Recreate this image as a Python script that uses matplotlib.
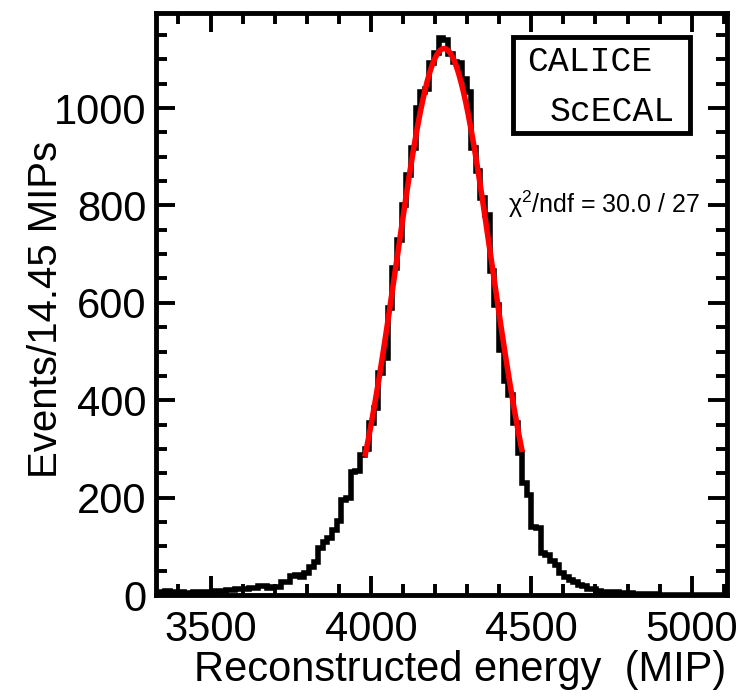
import numpy as np
import matplotlib
matplotlib.use("Agg")
import matplotlib.pyplot as plt
from matplotlib.patches import Rectangle
from matplotlib.ticker import MultipleLocator

# ========================
# 1. Data
# ========================

bin_start = 3330.0
bin_width = 14.45

counts = [
    4, 6, 8, 7, 5, 6, 4, 5, 6, 7,
    6, 7, 8, 8, 9, 10, 11, 12, 12, 13,
    14, 15, 18, 19, 15, 16, 17, 26, 27, 40,
    41, 38, 45, 58, 67, 97, 108, 118, 134, 151,
    196, 200, 253, 255, 288, 300, 354, 385, 456, 487,
    590, 672, 729, 801, 862, 918, 1000, 1033, 1040, 1092,
    1112, 1143, 1140, 1110, 1095, 1092, 1060, 1033, 918, 870,
    815, 780, 665, 596, 504, 440, 411, 354, 292, 231,
    206, 140, 138, 87, 83, 70, 62, 46, 38, 30,
    26, 20, 18, 13, 12, 9, 7, 7, 6, 6,
    5, 4, 4, 3, 3, 2, 2, 2, 1, 1,
    1, 1, 0, 0, 0, 0, 0, 0, 0, 0,
    0, 0, 0,
]

# gaussian fit parameters
fit_amp = 1122.0
fit_mean = 4228.0
fit_sigma = 149.0
fit_lo = 3981.0
fit_hi = 4472.0

chi2_text = "\u03c7$^{2}$/ndf = 30.0 / 27"

# ========================
# 2. Style
# ========================

plt.rcParams["font.family"] = ["Liberation Sans", "DejaVu Sans"]
plt.rcParams["mathtext.fontset"] = "custom"
plt.rcParams["mathtext.rm"] = "Liberation Sans"
plt.rcParams["mathtext.it"] = "Liberation Sans"

fig = plt.figure(figsize=(7.38, 6.97), dpi=100)
ax = fig.add_axes([0.2114, 0.1463, 0.7736, 0.835])

# ========================
# 3. Plot
# ========================

edges = bin_start + bin_width * np.arange(len(counts) + 1)
ax.stairs(counts, edges, color="black", lw=4.0, baseline=None)

xf = np.linspace(fit_lo, fit_hi, 200)
yf = fit_amp * np.exp(-0.5 * ((xf - fit_mean) / fit_sigma) ** 2)
ax.plot(xf, yf, color="red", lw=4.0, solid_capstyle="butt")

ax.set_xlim(3330, 5110)
ax.set_ylim(0, 1195)

ax.xaxis.set_major_locator(MultipleLocator(500))
ax.xaxis.set_minor_locator(MultipleLocator(100))
ax.yaxis.set_major_locator(MultipleLocator(200))
ax.yaxis.set_minor_locator(MultipleLocator(50))

ax.tick_params(which="both", direction="in", top=True, right=True,
               width=2.8, labelsize=30)
ax.tick_params(which="major", length=14)
ax.tick_params(which="minor", length=8)
ax.tick_params(axis="x", pad=11)
ax.tick_params(axis="y", pad=7)

for s in ax.spines.values():
    s.set_linewidth(3.5)

ax.set_xlabel("Reconstructed energy  (MIP)", fontsize=30, labelpad=0)
ax.set_ylabel("Events/14.45 MIPs", fontsize=29, labelpad=-8)
ax.xaxis.label.set_x(0.533)
ax.yaxis.label.set_y(0.49)

# label box
ax.add_patch(Rectangle((0.625, 0.794), 0.31, 0.165, transform=ax.transAxes,
                       fill=False, lw=3.5, edgecolor="black", zorder=5))
ax.text(0.650, 0.916, "CALICE", transform=ax.transAxes, fontsize=25,
        family="Liberation Mono", va="center", ha="left")
ax.text(0.690, 0.830, "ScECAL", transform=ax.transAxes, fontsize=25,
        family="Liberation Mono", va="center", ha="left")

ax.text(0.953, 0.672, chi2_text, transform=ax.transAxes, fontsize=18,
        ha="right", va="center")

fig.savefig("out.png", dpi=100)
plt.close(fig)
